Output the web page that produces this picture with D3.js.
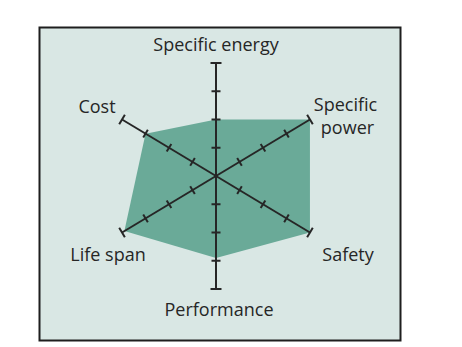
<!DOCTYPE html>
<html><head><meta charset="utf-8">
<script src="https://cdn.jsdelivr.net/npm/d3@7"></script>
<style>body{margin:0;background:#fff}</style>
</head><body>
<script>
const categories = ["Specific energy", "Specific power", "Safety", "Performance", "Life span", "Cost"];
const values = [2, 4, 4, 2.9, 3.9, 3];
const tickValues = [1, 2, 3, 4];
const maxValue = 4;

const W = 462, H = 347;
const svg = d3.select("body").append("svg").attr("width", W).attr("height", H);
svg.append("rect").attr("x", 39.5).attr("y", 27.5).attr("width", 361).attr("height", 313)
  .attr("fill", "#d9e7e4").attr("stroke", "#1e1e1e").attr("stroke-width", 2);

const cx = 216, cy = 176, RX = 108.5, RY = 113;
const r = d3.scaleLinear().domain([0, maxValue]).range([0, 1]);
const ang = d3.scaleLinear().domain([0, categories.length]).range([0, 2 * Math.PI]);
function pt(i, v) {
  const a = ang(i);
  return [cx + RX * r(v) * Math.sin(a), cy - RY * r(v) * Math.cos(a)];
}

svg.append("path")
  .attr("d", d3.line()(values.map((v, i) => pt(i, v))) + "Z")
  .attr("fill", "#6aaa98");

const g = svg.append("g").attr("stroke", "#262626").attr("stroke-width", 2).attr("fill", "none");
categories.forEach((c, i) => {
  const [x1, y1] = pt(i, maxValue);
  g.append("line").attr("x1", cx).attr("y1", cy).attr("x2", x1).attr("y2", y1);
  const dx = x1 - cx, dy = y1 - cy, L = Math.hypot(dx, dy);
  const px = -dy / L, py = dx / L;
  tickValues.forEach(t => {
    const [tx, ty] = pt(i, t);
    const h = t === maxValue ? 5.5 : 4.5;
    g.append("line").attr("x1", tx - px * h).attr("y1", ty - py * h)
      .attr("x2", tx + px * h).attr("y2", ty + py * h);
  });
});

const labelLines = [["Specific energy"], ["Specific", "power"], ["Safety"], ["Performance"], ["Life span"], ["Cost"]];
const labelPos = [[216, 51, "middle"], [345.5, 111, "middle"], [348, 261, "middle"], [219, 316, "middle"], [108, 261, "middle"], [97, 113, "middle"]];
labelLines.forEach((lines, i) => {
  lines.forEach((s, k) => {
    svg.append("text")
      .attr("x", labelPos[i][0] + (k ? 2 : 0))
      .attr("y", labelPos[i][1] + k * 23)
      .attr("text-anchor", labelPos[i][2])
      .attr("font-family", "Open Sans, sans-serif").attr("font-size", 18).attr("font-weight", 500)
      .attr("fill", "#262626")
      .text(s);
  });
});
</script>
</body></html>
